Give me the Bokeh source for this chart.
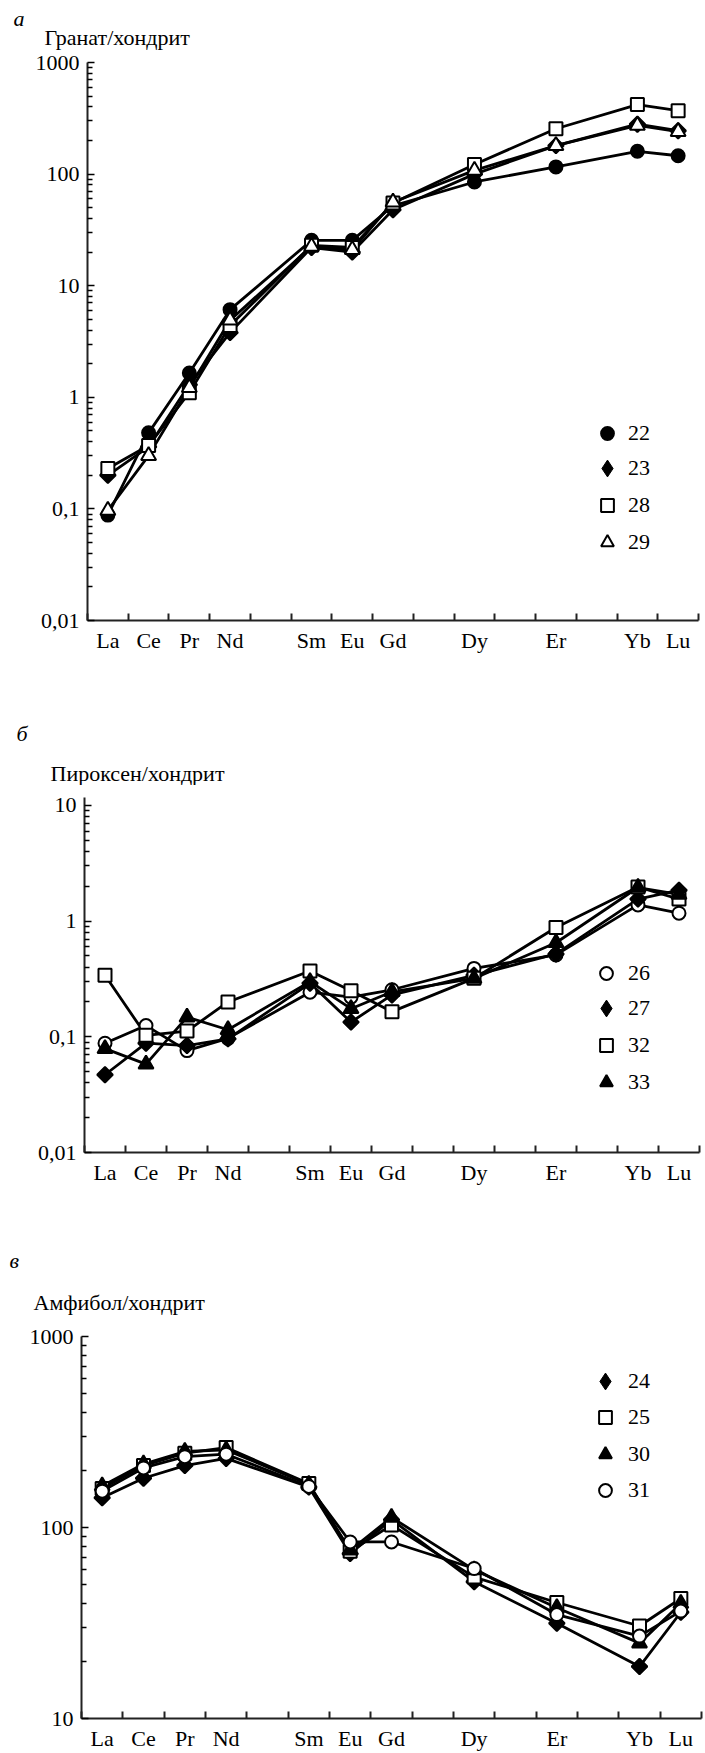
import math
from bokeh.plotting import figure
from bokeh.models import (Range1d, FixedTicker, CustomJSTickFormatter, Legend, LegendItem)
from bokeh.core.properties import value
from bokeh.layouts import column
from bokeh.embed import file_html
from bokeh.resources import INLINE

# ---------------- data ----------------
ree_all = ["La", "Ce", "Pr", "Nd", "Pm", "Sm", "Eu", "Gd", "Tb", "Dy", "Ho", "Er", "Tm", "Yb", "Lu"]
ree = ["La", "Ce", "Pr", "Nd", "Sm", "Eu", "Gd", "Dy", "Er", "Yb", "Lu"]

# (а) Гранат/хондрит
garnet_names = ["22", "23", "28", "29"]
g22 = [0.088, 0.48, 1.65, 6.1, 25.5, 25.5, 52, 85, 116, 160, 146]
g23 = [0.20, 0.36, 1.3, 3.8, 22, 20, 48, 100, 180, 280, 245]
g28 = [0.23, 0.37, 1.1, 4.4, 23, 22, 55, 122, 255, 420, 370]
g29 = [0.097, 0.30, 1.22, 4.9, 22.5, 21, 56, 108, 180, 273, 240]

# (б) Пироксен/хондрит
pyroxene_names = ["26", "27", "32", "33"]
p26 = [0.088, 0.125, 0.076, 0.097, 0.243, 0.22, 0.255, 0.39, 0.51, 1.38, 1.17]
p27 = [0.047, 0.088, 0.084, 0.096, 0.29, 0.134, 0.23, 0.34, 0.52, 1.55, 1.85]
p32 = [0.34, 0.103, 0.112, 0.20, 0.37, 0.25, 0.165, 0.32, 0.88, 1.97, 1.55]
p33 = [0.079, 0.058, 0.148, 0.115, 0.30, 0.175, 0.245, 0.32, 0.65, 1.95, 1.70]

# (в) Амфибол/хондрит
amph_names = ["24", "25", "30", "31"]
a24 = [143, 181, 211, 230, 163, 73, 110, 52, 31.5, 18.7, 36]
a25 = [160, 211, 245, 262, 170, 75, 103, 55, 40.5, 30.5, 42.5]
a30 = [165, 215, 250, 255, 168, 76, 113, 60, 38, 24.8, 40]
a31 = [155, 205, 235, 242, 164, 84, 84, 61, 35, 27, 36.5]

FONT = "Liberation Serif"
FS = "22px"

# marker styles
FILLED_CIRCLE = dict(marker="circle", size=13, fill_color="black")
FILLED_DIAMOND = dict(marker="square", size=11, angle=math.pi / 4, fill_color="black")
OPEN_SQUARE = dict(marker="square", size=13, fill_color="white")
OPEN_TRIANGLE = dict(marker="triangle", size=15, fill_color="white")
FILLED_TRIANGLE = dict(marker="triangle", size=15, fill_color="black")
OPEN_CIRCLE = dict(marker="circle", size=13, fill_color="white")

xpos = [ree_all.index(e) + 0.5 for e in ree]


def no_align(f):
    try:
        f.frame_align = False
    except AttributeError:
        pass
    return f


def header(height, letter, title, letter_xy, title_xy):
    h = figure(width=705, height=height, x_range=Range1d(0, 705), y_range=Range1d(height, 0),
               x_axis_type=None, y_axis_type=None, output_backend="svg",
               toolbar_location=None, min_border=0,
               min_border_left=0, min_border_right=0, min_border_top=0, min_border_bottom=0)
    no_align(h)
    h.outline_line_color = None
    h.grid.visible = False
    h.text(x=[letter_xy[0]], y=[letter_xy[1]], text=[letter], text_font=value(FONT),
           text_font_style="italic", text_font_size=FS, text_baseline="middle",
           text_color="black")
    h.text(x=[title_xy[0]], y=[title_xy[1]], text=[title], text_font=value(FONT),
           text_font_size=FS, text_baseline="middle", text_color="black")
    return h


def make_panel(page_top, height, top, bottom, left, right, y0, y1, yticks, series, names,
               styles, legend_x, legend_rows):
    p = figure(width=705, height=height, y_axis_type="log",
               x_range=Range1d(0, len(ree_all)), y_range=Range1d(y0, y1),
               output_backend="svg", toolbar_location=None,
               min_border_top=top, min_border_bottom=bottom,
               min_border_left=left, min_border_right=right)
    no_align(p)
    p.outline_line_color = None
    p.grid.visible = False

    # x axis: labels at element centres, ticks at the boundaries
    xa = p.xaxis[0]
    xa.ticker = FixedTicker(ticks=xpos, minor_ticks=list(range(len(ree_all) + 1)))
    xa.formatter = CustomJSTickFormatter(args=dict(names=ree_all),
                                         code="return names[Math.floor(tick)]")
    xa.major_tick_in = 0
    xa.major_tick_out = 0
    xa.minor_tick_in = 7
    xa.minor_tick_out = 0
    xa.axis_line_width = 2
    xa.axis_line_color = "#222222"
    xa.minor_tick_line_width = 2
    xa.minor_tick_line_color = "#222222"
    xa.major_label_text_font = FONT
    xa.major_label_text_font_size = FS
    xa.major_label_text_color = "black"
    xa.major_label_standoff = 7

    ya = p.yaxis[0]
    minors = []
    for d in yticks[:-1]:
        for k in range(2, 10):
            minors.append(d * k)
    ya.ticker = FixedTicker(ticks=yticks, minor_ticks=minors)
    ya.formatter = CustomJSTickFormatter(code="return String(tick).replace('.', ',')")
    ya.major_tick_in = 7
    ya.major_tick_out = 0
    ya.minor_tick_in = 5
    ya.minor_tick_out = 0
    ya.axis_line_width = 2
    ya.axis_line_color = "#222222"
    ya.major_tick_line_width = 1.5
    ya.minor_tick_line_width = 1.5
    ya.major_label_text_font = FONT
    ya.major_label_text_font_size = FS
    ya.major_label_text_color = "black"
    ya.major_label_standoff = 8

    for vals in series:
        p.line(xpos, vals, line_color="black", line_width=2.8)

    # legend swatches for the diamond symbol (the legend ignores marker rotation);
    # drawn underneath the rotated-square data markers, so they stay hidden in the plot
    proxies = {}
    for i, (vals, st) in enumerate(zip(series, styles)):
        if st.get("angle"):
            proxies[i] = p.scatter(xpos, vals, marker="diamond", size=12, fill_color="black",
                                   line_color="black", line_width=1)

    frame_bottom = height - bottom
    for i, (vals, name, st, row) in enumerate(zip(series, names, styles, legend_rows)):
        r = p.scatter(xpos, vals, line_color="black", line_width=2, **st)
        if i in proxies:
            r = proxies[i]
            box = 42
        else:
            box = 32
        cy = row - page_top
        lg = Legend(items=[LegendItem(label=name, renderers=[r])],
                    location=(legend_x - box / 2 - left, frame_bottom - (cy + box / 2)),
                    border_line_color=None, background_fill_alpha=0,
                    label_text_font=FONT, label_text_font_size=FS, label_text_color="black",
                    glyph_width=box, glyph_height=box, label_height=20,
                    label_standoff=int(628 - (legend_x + box / 2)), spacing=0,
                    padding=0, margin=0)
        p.add_layout(lg)
    return p


# panel а : page y 0..665
ha = header(50, "а", "Гранат/хондрит", (13, 18), (44, 37))
pa = make_panel(50, 615, 12, 45, 87, 7, 0.01, 1000, [0.01, 0.1, 1, 10, 100, 1000],
                [g22, g23, g28, g29], garnet_names,
                [FILLED_CIRCLE, FILLED_DIAMOND, OPEN_SQUARE, OPEN_TRIANGLE],
                607, [433, 468, 505, 542])

# panel б : page y 665..1195
hb = header(120, "б", "Пироксен/хондрит", (16, 68), (50, 108))
pb = make_panel(785, 410, 12, 43, 84, 6, 0.01, 11.7, [0.01, 0.1, 1, 10],
                [p26, p27, p32, p33], pyroxene_names,
                [OPEN_CIRCLE, FILLED_DIAMOND, OPEN_SQUARE, FILLED_TRIANGLE],
                606, [973, 1008, 1045, 1082])

# panel в : page y 1195..1753
hc = header(125, "в", "Амфибол/хондрит", (9, 65), (33, 107))
pc = make_panel(1320, 433, 16, 35, 81, 4, 10, 1000, [10, 100, 1000],
                [a24, a25, a30, a31], amph_names,
                [FILLED_DIAMOND, OPEN_SQUARE, FILLED_TRIANGLE, OPEN_CIRCLE],
                605, [1381, 1417, 1454, 1490])

layout = column(ha, pa, hb, pb, hc, pc, spacing=0)
open("out.html", "w").write(file_html(layout, INLINE))
